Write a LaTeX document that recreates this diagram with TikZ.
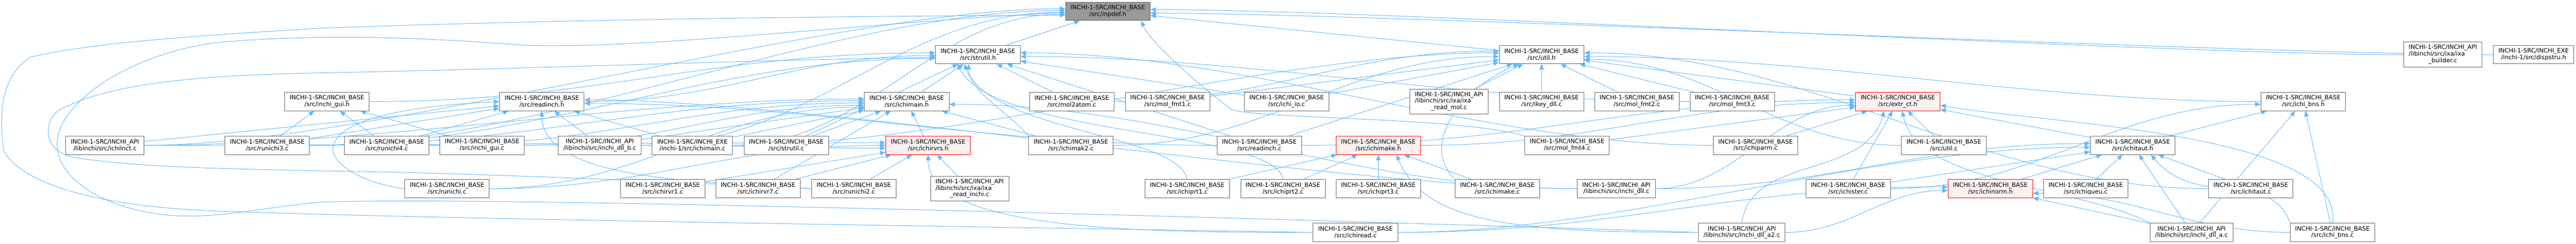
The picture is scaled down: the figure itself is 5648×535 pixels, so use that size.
\documentclass[tikz,border=0pt]{standalone}
\usepackage{fontspec}
\setmainfont{DejaVu Sans}
\usepackage{tikz}
\usetikzlibrary{arrows.meta, calc}

\definecolor{edgeblue}{HTML}{63B8FF}
\definecolor{boxgrey}{HTML}{666666}
\definecolor{curgrey}{HTML}{999999}
\definecolor{truncfill}{HTML}{FFF0F0}

\pgfdeclarelayer{background}
\pgfsetlayers{background,main}

\begin{document}
\begin{tikzpicture}[x=1pt, y=1pt,
    file/.style={draw=boxgrey, fill=white, line width=1.2pt, minimum height=40pt, inner xsep=11pt, inner ysep=3pt, align=center, font=\fontsize{13.2}{14.5}\selectfont},
    cur/.style={file, fill=curgrey},
    trunc/.style={file, draw=red, fill=truncfill},
    tall/.style={file, minimum height=55pt},
    inc/.style={draw=edgeblue, line width=1.1pt, -{Triangle[length=12pt, width=10pt]}},]

\useasboundingbox (0,0) rectangle (5648,-535);

% Included file
\node[cur] (inpdef) at (2429,-25) {INCHI-1-SRC/INCHI\_BASE\\/src/inpdef.h};

% Second rank
\node[file] (strutilh) at (2144,-120) {INCHI-1-SRC/INCHI\_BASE\\/src/strutil.h};
\node[file] (utilh) at (3380,-120) {INCHI-1-SRC/INCHI\_BASE\\/src/util.h};
\node[tall] (ixabuild) at (5356,-120) {\begin{tabular}{@{}l@{}}INCHI-1-SRC/INCHI\_API\\/libinchi/src/ixa/ixa\\\multicolumn{1}{@{}c@{}}{\_builder.c}\end{tabular}};
\node[file] (dispstru) at (5555,-120) {INCHI-1-SRC/INCHI\_EXE\\/inchi-1/src/dispstru.h};

% Third rank
\node[file] (guih) at (717,-223) {INCHI-1-SRC/INCHI\_BASE\\/src/inchi\_gui.h};
\node[file] (readinchh) at (1188,-223) {INCHI-1-SRC/INCHI\_BASE\\/src/readinch.h};
\node[file] (mainh) at (1988,-223) {INCHI-1-SRC/INCHI\_BASE\\/src/ichimain.h};
\node[file] (molatom) at (2350,-223) {INCHI-1-SRC/INCHI\_BASE\\/src/mol2atom.c};
\node[file] (fmtone) at (2560,-223) {INCHI-1-SRC/INCHI\_BASE\\/src/mol\_fmt1.c};
\node[file] (ichiio) at (2821,-223) {INCHI-1-SRC/INCHI\_BASE\\/src/ichi\_io.c};
\node[tall] (ixamol) at (3177,-223) {\begin{tabular}{@{}l@{}}INCHI-1-SRC/INCHI\_API\\/libinchi/src/ixa/ixa\\\multicolumn{1}{@{}c@{}}{\_read\_mol.c}\end{tabular}};
\node[file] (ikey) at (3380,-223) {INCHI-1-SRC/INCHI\_BASE\\/src/ikey\_dll.c};
\node[file] (fmttwo) at (3589,-223) {INCHI-1-SRC/INCHI\_BASE\\/src/mol\_fmt2.c};
\node[file] (fmtthree) at (3798,-223) {INCHI-1-SRC/INCHI\_BASE\\/src/mol\_fmt3.c};
\node[trunc] (extrct) at (4161,-223) {INCHI-1-SRC/INCHI\_BASE\\/src/extr\_ct.h};
\node[file] (bnsh) at (5050,-223) {INCHI-1-SRC/INCHI\_BASE\\/src/ichi\_bns.h};

% Fourth rank
\node[file] (lnct) at (230,-319) {INCHI-1-SRC/INCHI\_API\\/libinchi/src/ichilnct.c};
\node[file] (runthree) at (586,-319) {INCHI-1-SRC/INCHI\_BASE\\/src/runichi3.c};
\node[file] (runfour) at (848,-319) {INCHI-1-SRC/INCHI\_BASE\\/src/runichi4.c};
\node[file] (guic) at (1057,-319) {INCHI-1-SRC/INCHI\_BASE\\/src/inchi\_gui.c};
\node[file] (dllb) at (1315,-319) {INCHI-1-SRC/INCHI\_API\\/libinchi/src/inchi\_dll\_b.c};
\node[file] (mainc) at (1518,-319) {INCHI-1-SRC/INCHI\_EXE\\/inchi-1/src/ichimain.c};
\node[file] (strutilc) at (1724,-319) {INCHI-1-SRC/INCHI\_BASE\\/src/strutil.c};
\node[trunc] (rvrsh) at (2035,-319) {INCHI-1-SRC/INCHI\_BASE\\/src/ichirvrs.h};
\node[file] (maktwo) at (2348,-319) {INCHI-1-SRC/INCHI\_BASE\\/src/ichimak2.c};
\node[file] (readinchc) at (2761,-319) {INCHI-1-SRC/INCHI\_BASE\\/src/readinch.c};
\node[trunc] (makeh) at (3022,-319) {INCHI-1-SRC/INCHI\_BASE\\/src/ichimake.h};
\node[file] (fmtfour) at (3436,-319) {INCHI-1-SRC/INCHI\_BASE\\/src/mol\_fmt4.c};
\node[file] (parm) at (3849,-319) {INCHI-1-SRC/INCHI\_BASE\\/src/ichiparm.c};
\node[file] (utilc) at (4262,-319) {INCHI-1-SRC/INCHI\_BASE\\/src/util.c};
\node[file] (tauth) at (4676,-319) {INCHI-1-SRC/INCHI\_BASE\\/src/ichitaut.h};

% Fifth rank
\node[file] (runichi) at (980,-414) {INCHI-1-SRC/INCHI\_BASE\\/src/runichi.c};
\node[file] (rvrone) at (1453,-414) {INCHI-1-SRC/INCHI\_BASE\\/src/ichirvr1.c};
\node[file] (rvrseven) at (1662,-414) {INCHI-1-SRC/INCHI\_BASE\\/src/ichirvr7.c};
\node[file] (runtwo) at (1872,-414) {INCHI-1-SRC/INCHI\_BASE\\/src/runichi2.c};
\node[tall] (ixainchi) at (2126,-414) {\begin{tabular}{@{}l@{}}INCHI-1-SRC/INCHI\_API\\/libinchi/src/ixa/ixa\\\multicolumn{1}{@{}c@{}}{\_read\_inchi.c}\end{tabular}};
\node[file] (prtone) at (2603,-414) {INCHI-1-SRC/INCHI\_BASE\\/src/ichiprt1.c};
\node[file] (prttwo) at (2813,-414) {INCHI-1-SRC/INCHI\_BASE\\/src/ichiprt2.c};
\node[file] (prtthree) at (3022,-414) {INCHI-1-SRC/INCHI\_BASE\\/src/ichiprt3.c};
\node[file] (makec) at (3283,-414) {INCHI-1-SRC/INCHI\_BASE\\/src/ichimake.c};
\node[file] (dll) at (3544,-414) {INCHI-1-SRC/INCHI\_API\\/libinchi/src/inchi\_dll.c};
\node[file] (ister) at (4052,-414) {INCHI-1-SRC/INCHI\_BASE\\/src/ichister.c};
\node[trunc] (normh) at (4364,-414) {INCHI-1-SRC/INCHI\_BASE\\/src/ichinorm.h};
\node[file] (queu) at (4573,-414) {INCHI-1-SRC/INCHI\_BASE\\/src/ichiqueu.c};
\node[file] (tautc) at (4935,-414) {INCHI-1-SRC/INCHI\_BASE\\/src/ichitaut.c};

% Sixth rank
\node[file] (ichiread) at (2972,-510) {INCHI-1-SRC/INCHI\_BASE\\/src/ichiread.c};
\node[file] (dlla2) at (3819,-510) {INCHI-1-SRC/INCHI\_API\\/libinchi/src/inchi\_dll\_a2.c};
\node[file] (dlla) at (4805,-510) {INCHI-1-SRC/INCHI\_API\\/libinchi/src/inchi\_dll\_a.c};
\node[file] (bnsc) at (5114,-510) {INCHI-1-SRC/INCHI\_BASE\\/src/ichi\_bns.c};

\begin{pgfonlayer}{background}
% Includes between close ranks
\foreach \s/\t in {strutilh/inpdef, utilh/inpdef,
    mainh/strutilh, molatom/strutilh, strutilc/strutilh, readinchc/strutilh, ichiio/strutilh,
    fmtone/utilh, ichiio/utilh, readinchc/utilh, ixamol/utilh, ikey/utilh, fmttwo/utilh, extrct/utilh, fmtthree/utilh,
    lnct/readinchh, runthree/readinchh, mainc/readinchh, runfour/readinchh, dllb/readinchh,
    runthree/guih, runfour/guih, guic/guih,
    dllb/mainh, strutilc/mainh, rvrsh/mainh, rvrseven/mainh, mainc/mainh, maktwo/mainh,
    rvrone/rvrsh, rvrseven/rvrsh, runtwo/rvrsh, ixainchi/rvrsh,
    prtone/makeh, prttwo/makeh, prtthree/makeh, makec/makeh,
    fmtfour/extrct, parm/extrct, utilc/extrct, ister/extrct, tauth/extrct,
    ister/tauth, normh/tauth, queu/tauth, dlla/tauth, tautc/tauth,
    dlla/normh, tauth/bnsh, dlla/bnsh, bnsc/bnsh}
  \draw[inc] (\s) -- (\t);

% Long includes running to the right
\foreach \s/\t/\off in {lnct/inpdef/6, runthree/inpdef/2, dllb/inpdef/-2, mainc/inpdef/-6,
    guih/strutilh/4, readinchh/strutilh/-2, runthree/strutilh/-8,
    lnct/mainh/6, runthree/mainh/2, runfour/mainh/-3, guic/mainh/-8, runichi/mainh/-12,
    lnct/rvrsh/6, runichi/rvrsh/0, dllb/rvrsh/-6,
    molatom/utilh/8, mainc/utilh/4, maktwo/utilh/-4,
    makeh/extrct/-2, readinchc/extrct/4, dll/extrct/-8,
    dll/tauth/4, ichiread/tauth/-4,
    ichiread/normh/4, dlla2/normh/-4,
    ister/bnsh/-6}
  \draw[inc] let \p1=(\s.east), \p2=([yshift=\off pt]\t.west), \n1={min(0.4*(\x2-\x1),500)} in
    (\p1) .. controls +(\n1,0) and +(-\n1,0) .. (\p2);

% Long includes running to the left
\foreach \s/\t/\off in {ixabuild/inpdef/4, dispstru/inpdef/-4,
    fmtthree/strutilh/-4, parm/strutilh/4,
    readinchc/readinchh/-4, dll/readinchh/4,
    dll/mainh/-6,
    bnsh/utilh/-4, tautc/utilh/4, utilc/utilh/-10,
    bnsc/normh/-10}
  \draw[inc] let \p1=(\s.west), \p2=([yshift=\off pt]\t.east), \n1={min(0.4*(\x1-\x2),500)} in
    (\p1) .. controls +(-\n1,0) and +(\n1,0) .. (\p2);

% Curved includes
\draw[inc] (fmtfour.north west) .. controls (3200,-256) and (2760,-262) .. (2700,-240)
  .. controls (2620,-180) and (2520,-90) .. ([xshift=-20pt]inpdef.south east);
\draw[inc] (maktwo.north west) .. controls +(-40,50) and +(0,-60) .. ([xshift=-20pt]strutilh.south);
\draw[inc] (prtone.north) .. controls +(-20,100) and +(60,-150) .. ([xshift=-30pt]strutilh.south);
\draw[inc] (prttwo.north) .. controls +(-20,110) and +(80,-160) .. ([xshift=-45pt]strutilh.south);
\draw[inc] (runichi.west) .. controls (780,-400) and (720,-350) .. (731,-320)
  .. controls (745,-260) and (900,-232) .. (readinchh.west);
\draw[inc] (runtwo.west) .. controls +(-250,15) and +(0,-150) .. (readinchh.south);
\draw[inc] (ichiread.west) .. controls +(-350,0) and +(0,-170) .. (rvrsh.south);
\draw[inc] (dlla2.west) .. controls +(-400,0) and +(60,-150) .. ([xshift=40pt]makeh.south);
\draw[inc] (dlla2.north) .. controls +(20,150) and +(-40,-150) .. ([xshift=-30pt]extrct.south);
\draw[inc] (dlla.north west) .. controls +(-150,80) and +(30,-160) .. ([xshift=10pt]extrct.south);
\draw[inc] (bnsc.north) .. controls +(30,200) and +(220,-40) .. ([yshift=-8pt]extrct.east);
\draw[inc] (bnsc.north west) .. controls +(-40,120) and +(100,-120) .. ([xshift=40pt]tauth.south);
\draw[inc] (makec.north west) .. controls +(-80,80) and +(-120,-50) .. ([xshift=-50pt]utilh.south);

% Loops round the left edge
\draw[inc] (ichiread.west) .. controls (2000,-495) and (900,-480) .. (450,-462)
  .. controls (200,-450) and (45,-400) .. (8,-330)
  .. controls (-2,-250) and (0,-170) .. (67,-125)
  .. controls (200,-95) and (400,-80) .. (700,-62)
  .. controls (1300,-40) and (1900,-36) .. ([yshift=-8pt]inpdef.west);
\draw[inc] (dlla2.west) .. controls (2500,-470) and (1000,-430) .. (700,-444)
  .. controls (600,-452) and (500,-476) .. (402,-474)
  .. controls (250,-470) and (125,-400) .. (125,-317)
  .. controls (125,-220) and (300,-110) .. (491,-92)
  .. controls (700,-75) and (900,-80) .. (1146,-99)
  .. controls (1400,-110) and (1900,-50) .. ([yshift=-2pt]inpdef.west);
\draw[inc] (runtwo.west) .. controls (1500,-400) and (1000,-378) .. (700,-375)
  .. controls (500,-370) and (300,-368) .. (160,-345)
  .. controls (90,-330) and (95,-260) .. (134,-239)
  .. controls (250,-180) and (450,-165) .. (700,-160)
  .. controls (1200,-150) and (1700,-130) .. ([yshift=-6pt]strutilh.west);
\end{pgfonlayer}

\end{tikzpicture}
\end{document}
